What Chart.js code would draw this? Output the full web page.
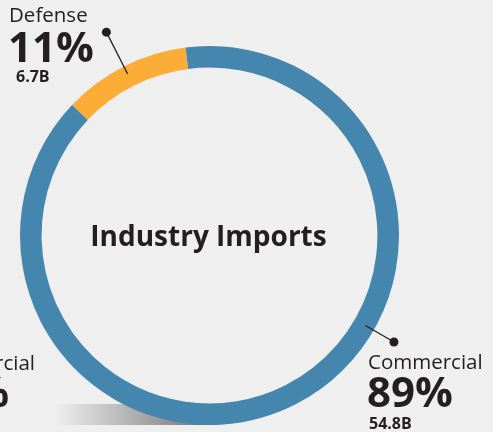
<!DOCTYPE html>
<html lang="en">
<head>
  <meta charset="UTF-8">
  <script src="https://cdn.jsdelivr.net/npm/chart.js@4.4.0/dist/chart.umd.min.js"></script>
  <style>
    html, body { margin: 0; padding: 0; background: #efefef; overflow: hidden; }
    canvas { display: block; }
  </style>
</head>
<body>
  <canvas id="imports" width="493" height="432"></canvas>
  <script>
    // data
    const categories = ['Defense', 'Commercial'];
    const values = [6.7, 54.8];          // billions
    const valueLabels = ['6.7B', '54.8B'];
    const colors = ['#fbad38', '#4486ad'];
    const centerTitle = 'Industry Imports';

    const FONT = '"Open Sans", "DejaVu Sans", sans-serif';
    const INK = '#231f20';

    // leader + label placement for each slice (angle in degrees from top, clockwise)
    const callouts = [
      { angle: null, r1: 181, r2: 228, tx: 9, ty: 22, px: 8, py: 62, vx: 16, vy: 82 },
      { angle: 120, r1: 180, r2: 213, tx: 368, ty: 369, px: 367, py: 407, vx: 369, vy: 429 }
    ];

    const total = values.reduce((a, b) => a + b, 0);

    const backdrop = {
      id: 'backdrop',
      beforeDatasetsDraw(chart) {
        const c = chart.ctx;
        // faint shadow band under the ring
        const g = c.createLinearGradient(55, 0, 215, 0);
        g.addColorStop(0, 'rgba(239,239,239,1)');
        g.addColorStop(1, 'rgba(110,110,112,1)');
        c.save();
        c.fillStyle = g;
        c.fillRect(55, 404, 160, 21);
        c.restore();

        // clipped neighbour label on the left edge
        c.save();
        c.fillStyle = INK;
        c.textAlign = 'right';
        c.font = '20.5px ' + FONT;
        c.fillText('Commercial', 35, 370);
        c.font = 'bold 42px ' + FONT;
        c.fillText('89%', 9, 407);
        c.restore();
      }
    };

    const labels = {
      id: 'labels',
      afterDraw(chart) {
        const c = chart.ctx;
        const arcs = chart.getDatasetMeta(0).data;
        c.save();
        c.fillStyle = INK;
        c.strokeStyle = INK;
        c.textBaseline = 'alphabetic';

        // center title
        const a0 = arcs[0];
        c.textAlign = 'center';
        c.font = 'bold 28px ' + FONT;
        c.fillText(centerTitle, a0.x - 1, a0.y + 10);

        c.textAlign = 'left';
        arcs.forEach((arc, i) => {
          const cfg = callouts[i];
          const ang = cfg.angle === null
            ? (arc.startAngle + arc.endAngle) / 2
            : (cfg.angle - 90) * Math.PI / 180;
          const x1 = arc.x + Math.cos(ang) * cfg.r1, y1 = arc.y + Math.sin(ang) * cfg.r1;
          const x2 = arc.x + Math.cos(ang) * cfg.r2, y2 = arc.y + Math.sin(ang) * cfg.r2;
          c.lineWidth = 1.3;
          c.beginPath(); c.moveTo(x1, y1); c.lineTo(x2, y2); c.stroke();
          c.beginPath(); c.arc(x2, y2, 4.5, 0, Math.PI * 2); c.fill();

          const pct = Math.round(values[i] / total * 100) + '%';
          c.font = '20.5px ' + FONT;
          c.fillText(categories[i], cfg.tx, cfg.ty);
          c.font = 'bold 42px ' + FONT;
          c.fillText(pct, cfg.px, cfg.py);
          c.font = 'bold 16px ' + FONT;
          c.fillText(valueLabels[i], cfg.vx, cfg.vy);
        });
        c.restore();
      }
    };

    new Chart(document.getElementById('imports'), {
      type: 'doughnut',
      data: {
        labels: categories,
        datasets: [{
          data: values,
          backgroundColor: colors,
          borderWidth: 0,
          hoverOffset: 0,
          offset: 0
        }]
      },
      options: {
        responsive: false,
        animation: false,
        cutout: '88.6%',
        rotation: -46.5,
        layout: { padding: { left: 20, right: 94, top: 46, bottom: 7 } },
        plugins: {
          legend: { display: false },
          tooltip: { enabled: false }
        },
        events: []
      },
      plugins: [backdrop, labels]
    });
  </script>
</body>
</html>
